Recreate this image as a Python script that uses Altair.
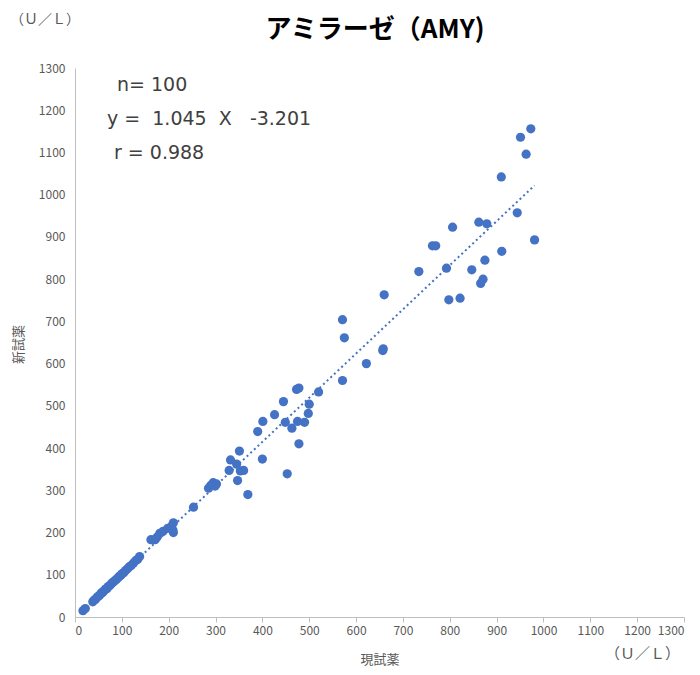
import altair as alt
import pandas as pd

# 現試薬 (x) vs 新試薬 (y), U/L
x_vals = [17, 22, 38, 41, 44, 47, 50, 53, 56, 59, 62, 65, 68, 71, 74, 77, 80, 83, 86, 89,
          92, 95, 98, 101, 104, 108, 112, 116, 120, 125, 130, 134, 138,
          171, 162, 175, 181, 188, 198, 210, 206, 209, 210,
          253,
          285, 295, 302, 299, 290,
          369, 347, 453, 329, 353, 360, 345, 332, 400, 351, 478, 390, 463, 401, 449, 475, 490,
          426, 498, 500, 445, 520, 473, 478, 571, 622, 657, 658, 575, 571, 660,
          973, 951, 963, 910, 944, 862, 879, 806, 981, 763, 770, 911, 875, 734, 793, 847, 871,
          866, 798, 822]
y_vals = [15, 20, 36, 40, 42, 47, 49, 52, 57, 58, 62, 66, 67, 72, 74, 78, 81, 84, 87, 90,
          93, 97, 99, 103, 105, 110, 114, 119, 122, 128, 134, 137, 143,
          183, 183, 189, 198, 203, 210, 200, 215, 206, 223,
          260,
          305, 318, 315, 310, 312,
          290, 323, 339, 347, 346, 347, 362, 372, 374, 393, 410, 439, 447, 463, 461, 463, 461,
          479, 482, 504, 510, 533, 539, 542, 560, 600, 631, 635, 661, 704, 763,
          1156, 1136, 1096, 1042, 957, 935, 931, 923, 893, 879, 879, 866, 845, 818, 826, 822, 800,
          790, 751, 755]

slope = 1.045
intercept = -3.201
NB = "\u00a0"
stats_lines = ["n=" + NB + "100",
               "y" + NB + "=" + NB * 2 + "1.045" + NB * 2 + "X" + NB * 3 + "-3.201",
               "r" + NB + "=" + NB + "0.988"]
stats_x = [42, 32, 39]
stats_y = [17, 51, 85]

ticks = list(range(0, 1301, 100))

df = pd.DataFrame({"x": x_vals, "y": y_vals})
line_x = [min(x_vals), max(x_vals)]
line_df = pd.DataFrame({"x": line_x, "y": [slope * v + intercept for v in line_x]})
stats_df = pd.DataFrame({"t": stats_lines, "px": stats_x, "py": stats_y})

FONT = "Noto Sans CJK JP"
GRAY = "#595959"
AXC = "#bfbfbf"
BLUE = "#4472C4"

xscale = alt.Scale(domain=[0, 1300], nice=False)
yscale = alt.Scale(domain=[0, 1300], nice=False)

xaxis = alt.Axis(values=ticks, format="d", grid=False, title="現試薬", domainColor=AXC, tickColor=AXC,
                 tickSize=5, labelPadding=3, labelFont=FONT, labelFontSize=12, labelColor=GRAY,
                 titleFont=FONT, titleFontSize=13, titleColor=GRAY, titleFontWeight="normal",
                 titleBaseline="middle", titleY=42)
yaxis = alt.Axis(values=ticks, format="d", grid=False, title="新試薬", domainColor=AXC, ticks=False,
                 labelPadding=10, labelFont=FONT, labelFontSize=12, labelColor=GRAY,
                 titleFont=FONT, titleFontSize=13, titleColor=GRAY, titleFontWeight="normal",
                 titleX=-57, titleY=276, titleBaseline="middle", titleAlign="center")

pts = alt.Chart(df).mark_circle(size=85, color=BLUE, opacity=1).encode(
    x=alt.X("x:Q", scale=xscale, axis=xaxis),
    y=alt.Y("y:Q", scale=yscale, axis=yaxis),
)

trend = alt.Chart(line_df).mark_line(color=BLUE, strokeWidth=2, strokeDash=[2, 3]).encode(
    x=alt.X("x:Q", scale=xscale),
    y=alt.Y("y:Q", scale=yscale),
)

stats = alt.Chart(stats_df).mark_text(align="left", baseline="middle", font="DejaVu Sans",
                                      fontSize=19, color="#404040").encode(
    x=alt.X("px:Q", scale=None),
    y=alt.Y("py:Q", scale=None),
    text="t:N",
)

title = alt.Chart(pd.DataFrame({"t": ["アミラーゼ（AMY)"]})).mark_text(
    align="center", baseline="middle", font=FONT, fontSize=26, fontWeight="bold", color="#000000"
).encode(x=alt.value(300), y=alt.value(-38), text="t:N")

unit_tl = alt.Chart(pd.DataFrame({"t": ["（Ｕ／Ｌ）"]})).mark_text(
    align="left", baseline="middle", font=FONT, fontSize=14, color=GRAY
).encode(x=alt.value(-65), y=alt.value(-48), text="t:N")

unit_br = alt.Chart(pd.DataFrame({"t": ["（Ｕ／Ｌ）"]})).mark_text(
    align="left", baseline="middle", font=FONT, fontSize=15, color=GRAY
).encode(x=alt.value(530), y=alt.value(37 + 549), text="t:N")

chart = alt.layer(trend, pts, stats, title, unit_tl, unit_br).properties(
    width=609, height=549,
    autosize=alt.AutoSizeParams(type="none"),
    padding={"left": 67, "top": 60, "right": 4, "bottom": 49},
).configure_view(stroke=None)

chart.save("out.html", embed_options={"renderer": "svg", "actions": False})
